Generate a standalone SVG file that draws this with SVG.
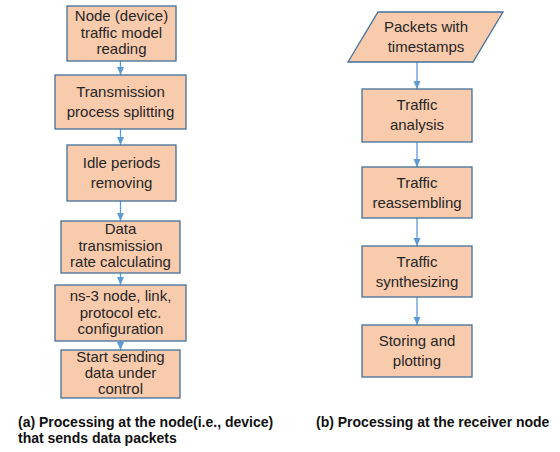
<svg xmlns="http://www.w3.org/2000/svg" width="560" height="452" viewBox="0 0 560 452">
<style>
.box{fill:#F8CBAD;stroke:#41719C;stroke-width:1.3}
.t{font-family:"Liberation Sans",Arial,sans-serif;font-size:15px;fill:#262626;text-anchor:middle}
.cap{font-family:"Liberation Sans",Arial,sans-serif;font-size:14px;font-weight:bold;fill:#111}
.c{stroke:#5B9BD5;stroke-width:1.3;fill:none}
</style>
<defs>
<marker id="ah" viewBox="0 0 8 8" refX="8" refY="4" markerWidth="8" markerHeight="8" markerUnits="userSpaceOnUse" orient="auto">
<path d="M0,0.5 L8,4 L0,7.5 Z" fill="#5B9BD5"/>
</marker>
</defs>
<rect width="560" height="452" fill="#fff"/>
<g id="connectors">
<line class="c" x1="120.5" y1="61" x2="120.5" y2="75" marker-end="url(#ah)"/>
<line class="c" x1="120.5" y1="129" x2="120.5" y2="145" marker-end="url(#ah)"/>
<line class="c" x1="120.5" y1="201" x2="120.5" y2="221" marker-end="url(#ah)"/>
<line class="c" x1="120.5" y1="273" x2="120.5" y2="285" marker-end="url(#ah)"/>
<line class="c" x1="120.5" y1="341" x2="120.5" y2="350" marker-end="url(#ah)"/>
<line class="c" x1="417" y1="62" x2="417" y2="89" marker-end="url(#ah)"/>
<line class="c" x1="417" y1="142" x2="417" y2="167" marker-end="url(#ah)"/>
<line class="c" x1="417" y1="218" x2="417" y2="246" marker-end="url(#ah)"/>
<line class="c" x1="417" y1="297" x2="417" y2="325" marker-end="url(#ah)"/>
</g>
<g id="n1"><rect class="box" x="67" y="6" width="109" height="55"/>
<text class="t"><tspan x="121.5" y="21">Node (device)</tspan><tspan x="121.5" y="38">traffic model</tspan><tspan x="121.5" y="54">reading</tspan></text></g>
<g id="n2"><rect class="box" x="55" y="75" width="131" height="54"/>
<text class="t"><tspan x="120.5" y="97">Transmission</tspan><tspan x="120.5" y="117">process splitting</tspan></text></g>
<g id="n3"><rect class="box" x="67" y="145" width="109" height="56"/>
<text class="t"><tspan x="121.5" y="168">Idle periods</tspan><tspan x="121.5" y="188">removing</tspan></text></g>
<g id="n4"><rect class="box" x="61" y="221" width="119" height="52"/>
<text class="t"><tspan x="120.5" y="234">Data</tspan><tspan x="120.5" y="251">transmission</tspan><tspan x="120.5" y="267">rate calculating</tspan></text></g>
<g id="n5"><rect class="box" x="55" y="285" width="131" height="56"/>
<text class="t"><tspan x="120.5" y="301">ns-3 node, link,</tspan><tspan x="120.5" y="318">protocol etc.</tspan><tspan x="120.5" y="334">configuration</tspan></text></g>
<g id="n6"><rect class="box" x="61" y="350" width="119" height="48"/>
<text class="t"><tspan x="120.5" y="362">Start sending</tspan><tspan x="120.5" y="378">data under</tspan><tspan x="120.5" y="394">control</tspan></text></g>
<g id="r1"><polygon class="box" points="378,12 503,12 473,62 348,62"/>
<text class="t"><tspan x="426" y="32">Packets with</tspan><tspan x="426" y="52">timestamps</tspan></text></g>
<g id="r2"><rect class="box" x="362" y="89" width="110" height="53"/>
<text class="t"><tspan x="417" y="110">Traffic</tspan><tspan x="417" y="130">analysis</tspan></text></g>
<g id="r3"><rect class="box" x="362" y="167" width="110" height="51"/>
<text class="t"><tspan x="417" y="188">Traffic</tspan><tspan x="417" y="208">reassembling</tspan></text></g>
<g id="r4"><rect class="box" x="362" y="246" width="110" height="51"/>
<text class="t"><tspan x="417" y="267">Traffic</tspan><tspan x="417" y="287">synthesizing</tspan></text></g>
<g id="r5"><rect class="box" x="362" y="325" width="110" height="52"/>
<text class="t"><tspan x="417" y="346">Storing and</tspan><tspan x="417" y="366">plotting</tspan></text></g>
<g id="captions">
<text class="cap" x="18" y="427">(a) Processing at the node(i.e., device)</text>
<text class="cap" x="18" y="443">that sends data packets</text>
<text class="cap" x="316" y="427">(b) Processing at the receiver node</text>
</g>
</svg>
